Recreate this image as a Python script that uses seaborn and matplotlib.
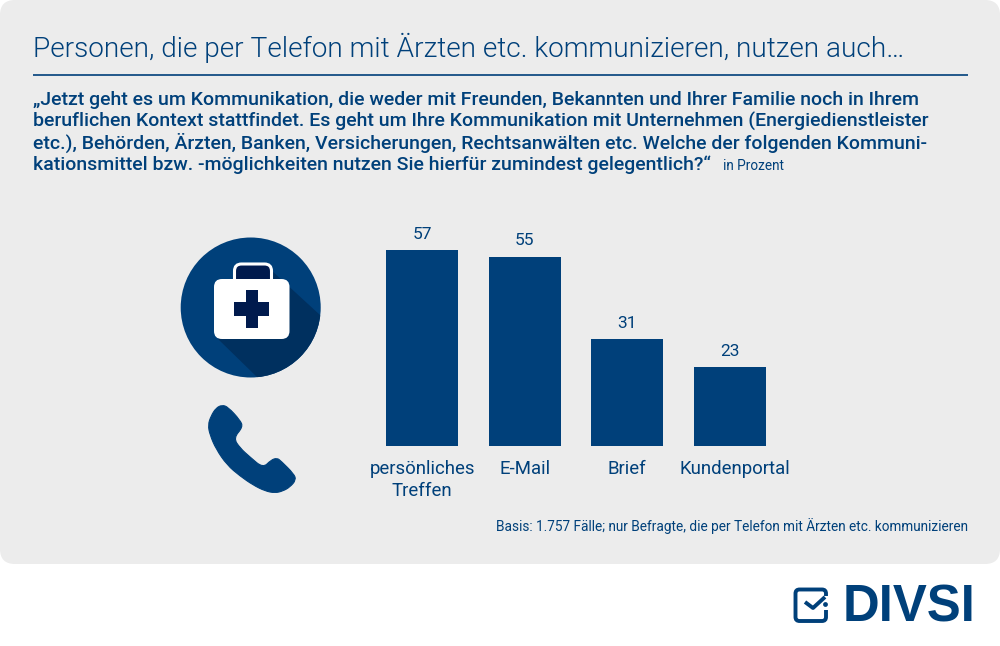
import matplotlib
matplotlib.use("Agg")
import matplotlib.pyplot as plt
import seaborn as sns
import pandas as pd
from matplotlib.patches import FancyBboxPatch, Circle, Polygon, Rectangle, PathPatch
from matplotlib.path import Path
from matplotlib.transforms import ScaledTranslation

categories = ["persönliches\nTreffen", "E-Mail", "Brief", "Kundenportal"]
values = [57, 55, 31, 23]

title = "Personen, die per Telefon mit Ärzten etc. kommunizieren, nutzen auch…"
question = [
    "„Jetzt geht es um Kommunikation, die weder mit Freunden, Bekannten und Ihrer Familie noch in Ihrem",
    "beruflichen Kontext stattfindet. Es geht um Ihre Kommunikation mit Unternehmen (Energiedienstleister",
    "etc.), Behörden, Ärzten, Banken, Versicherungen, Rechtsanwälten etc. Welche der folgenden Kommuni-",
    "kationsmittel bzw. -möglichkeiten nutzen Sie hierfür zumindest gelegentlich?“",
]
unit = "in Prozent"
basis = "Basis: 1.757 Fälle; nur Befragte, die per Telefon mit Ärzten etc. kommunizieren"
brand = "DIVSI"

BLUE = "#00407a"
DARK = "#00305f"
NAVY = "#001a4d"
GREY = "#ececec"
FONT = "Roboto"

sns.set_theme(style="white")
plt.rcParams["font.family"] = [FONT, "DejaVu Sans"]

fig = plt.figure(figsize=(10, 6.46), dpi=100, facecolor="white")

# full-figure layer in pixel units for the panel, header and icons
bg = fig.add_axes([0, 0, 1, 1], zorder=0)
bg.set_xlim(0, 1000)
bg.set_ylim(646, 0)
bg.axis("off")

bg.add_patch(FancyBboxPatch((15, 15), 970, 534, boxstyle="round,pad=15,rounding_size=15",
                            fc=GREY, ec="none"))

bg.text(33, 57, title, fontsize=20.15, color=BLUE, va="baseline", ha="left", weight=300)
bg.plot([33, 968], [74.5, 74.5], color=BLUE, lw=1.2, solid_capstyle="butt")
for text, y in zip(question, [105, 127, 149, 170]):
    bg.text(33, y, text, fontsize=14.0, color=BLUE, va="baseline", ha="left", weight=500)
bg.text(723, 170, unit, fontsize=9.8, color=BLUE, va="baseline", ha="left")
bg.text(968, 531, basis, fontsize=9.85, color=BLUE, va="baseline", ha="right")

# medical icon
cx, cy, r = 250.7, 307.5, 70
circle = Circle((cx, cy), r, fc=BLUE, ec="none")
bg.add_patch(circle)
shadow = Polygon([(271, 270), (320, 315), (340, 330), (340, 400), (258, 378), (218, 339)],
                 closed=True, fc=DARK, ec="none")
bg.add_patch(shadow)
shadow.set_clip_path(circle)
bg.add_patch(FancyBboxPatch((238, 267.5), 30, 16, boxstyle="round,pad=3.5,rounding_size=7",
                            fc=NAVY, ec="white", lw=2.2))
bg.add_patch(FancyBboxPatch((222, 287), 59.5, 44, boxstyle="round,pad=8,rounding_size=8",
                            fc="white", ec="none"))
bg.add_patch(Rectangle((234, 301.5), 35, 14.5, fc=NAVY, ec="none"))
bg.add_patch(Rectangle((246, 290), 11.5, 37.5, fc=NAVY, ec="none"))

# phone icon: quadratic curves through edge midpoints give a smooth outline
phone = [(222, 405), (228, 407), (240, 420), (243, 427), (233.5, 438),
         (240, 448), (250, 457), (263, 468), (271, 460), (277, 458),
         (281, 461), (294, 474), (296, 480), (290, 487), (283, 491),
         (275, 493), (265, 491), (253, 485), (240, 476), (227, 465),
         (216, 449), (210, 435), (208, 425), (211, 416), (216, 408)]
n = len(phone)
mids = [((phone[i][0] + phone[(i + 1) % n][0]) / 2, (phone[i][1] + phone[(i + 1) % n][1]) / 2)
        for i in range(n)]
verts = [mids[-1]]
codes = [Path.MOVETO]
for i in range(n):
    verts += [phone[i], mids[i]]
    codes += [Path.CURVE3, Path.CURVE3]
bg.add_patch(PathPatch(Path(verts, codes), fc=BLUE, ec=BLUE, lw=0.8))

# logo
bg.add_patch(FancyBboxPatch((796.5, 590.5), 28.5, 29.5, boxstyle="round,pad=1,rounding_size=4",
                            fc="none", ec=BLUE, lw=2.8))
bg.add_patch(Rectangle((821, 596), 8, 14, fc="white", ec="none"))
bg.plot([805, 813, 825], [602, 608, 597], color=BLUE, lw=2.8, solid_capstyle="butt")
bg.add_patch(Circle((825.5, 604.5), 2.4, fc=BLUE, ec="none"))
bg.text(843, 622, brand, fontsize=36.6, color=BLUE, va="baseline", ha="left",
        family="Liberation Sans", weight="bold")

# bar chart
left, right, base, top = 370.7, 781.3, 446.0, 239.6
ax = fig.add_axes([left / 1000, 1 - base / 646, (right - left) / 1000, (base - top) / 646],
                  zorder=1)
ax.patch.set_alpha(0)
df = pd.DataFrame({"Kategorie": categories, "Wert": values})
sns.barplot(data=df, x="Kategorie", y="Wert", color=BLUE, saturation=1, width=0.70,
            edgecolor="none", linewidth=0, ax=ax)
ax.set_xlim(-0.5, 3.5)
ax.set_ylim(0, 60)
ax.set_xlabel("")
ax.set_ylabel("")
ax.set_yticks([])
ax.tick_params(axis="x", length=0, pad=10, labelsize=13.4, labelcolor=BLUE)
for lab in ax.get_xticklabels():
    lab.set_linespacing(1.3)
last = ax.get_xticklabels()[-1]
last.set_transform(last.get_transform() + ScaledTranslation(5 / 100, 0, fig.dpi_scale_trans))
sns.despine(ax=ax, left=True, top=True, right=True, bottom=True)
ax.bar_label(ax.containers[0], labels=[str(v) for v in values], padding=6,
             fontsize=12.5, color=BLUE, clip_on=False)

fig.savefig("out.png", dpi=100, facecolor="white")
